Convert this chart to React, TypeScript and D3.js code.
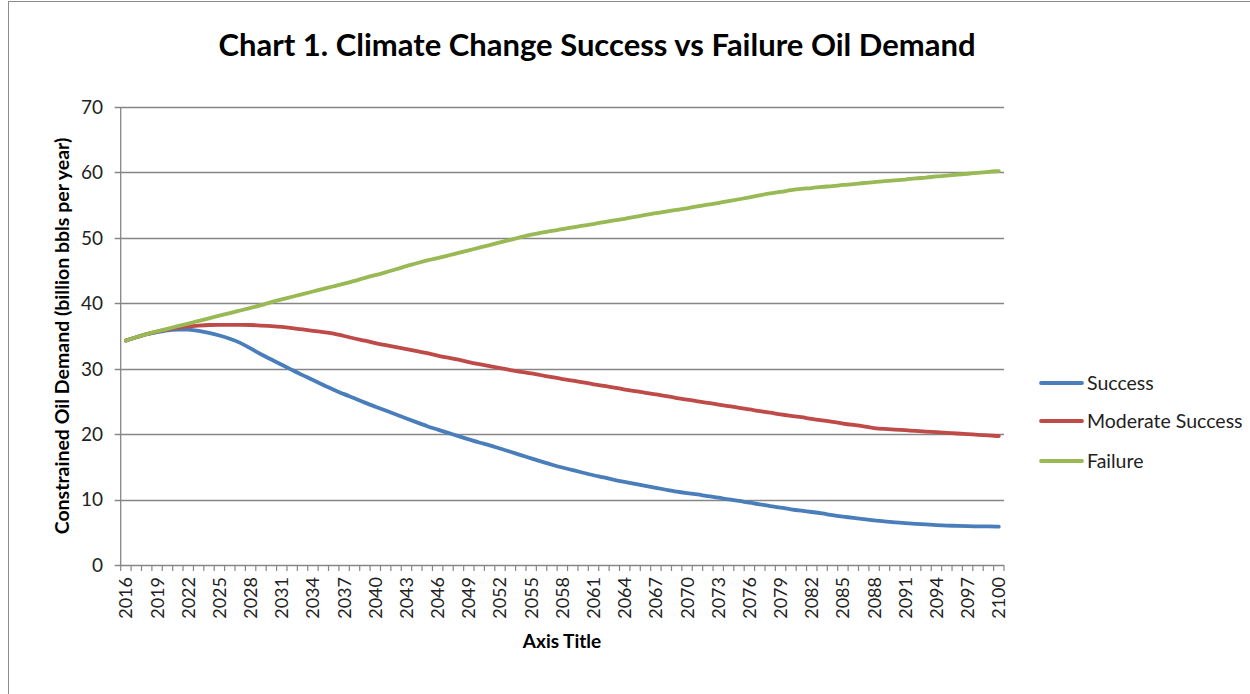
import React, { useEffect, useRef } from "react";
import * as d3 from "d3";

const years: number[] = d3.range(2016, 2101);

const success: number[] = [
  34.3, 34.8, 35.3, 35.6, 35.9, 36.0, 36.0, 35.8, 35.5, 35.1,
  34.6, 34.0, 33.1, 32.2, 31.4, 30.6, 29.8, 29.0, 28.3, 27.5,
  26.8, 26.1, 25.5, 24.8, 24.2, 23.6, 23.0, 22.4, 21.8, 21.2,
  20.7, 20.2, 19.7, 19.2, 18.7, 18.3, 17.8, 17.3, 16.8, 16.3,
  15.8, 15.3, 14.9, 14.5, 14.1, 13.7, 13.4, 13.0, 12.7, 12.4,
  12.1, 11.8, 11.5, 11.2, 11.0, 10.8, 10.5, 10.3, 10.0, 9.8,
  9.5, 9.3, 9.0, 8.8, 8.5, 8.3, 8.1, 7.9, 7.6, 7.4,
  7.2, 7.0, 6.8, 6.7, 6.5, 6.4, 6.3, 6.2, 6.1, 6.0,
  6.0, 5.95, 5.9, 5.9, 5.85,
];

const moderate: number[] = [
  34.3, 34.8, 35.3, 35.7, 36.0, 36.3, 36.5, 36.6, 36.7, 36.7,
  36.7, 36.7, 36.7, 36.6, 36.5, 36.4, 36.2, 36.0, 35.8, 35.6,
  35.4, 35.0, 34.6, 34.3, 33.9, 33.6, 33.3, 33.0, 32.7, 32.4,
  32.0, 31.7, 31.4, 31.0, 30.7, 30.4, 30.1, 29.8, 29.5, 29.3,
  29.0, 28.7, 28.4, 28.2, 27.9, 27.6, 27.4, 27.1, 26.8, 26.6,
  26.3, 26.1, 25.8, 25.5, 25.3, 25.0, 24.8, 24.5, 24.3, 24.0,
  23.8, 23.5, 23.3, 23.0, 22.8, 22.6, 22.3, 22.1, 21.9, 21.6,
  21.4, 21.2, 20.9, 20.8, 20.7, 20.6, 20.5, 20.4, 20.3, 20.2,
  20.1, 20.0, 19.9, 19.8, 19.7,
];

const failure: number[] = [
  34.3, 34.8, 35.3, 35.7, 36.1, 36.5, 36.9, 37.3, 37.7, 38.1,
  38.5, 38.9, 39.3, 39.7, 40.2, 40.6, 41.0, 41.4, 41.8, 42.2,
  42.6, 43.0, 43.4, 43.9, 44.3, 44.7, 45.2, 45.7, 46.1, 46.6,
  46.9, 47.3, 47.7, 48.1, 48.5, 48.9, 49.3, 49.7, 50.1, 50.5,
  50.8, 51.1, 51.3, 51.6, 51.9, 52.1, 52.4, 52.7, 52.9, 53.2,
  53.5, 53.8, 54.0, 54.3, 54.5, 54.8, 55.1, 55.3, 55.6, 55.9,
  56.2, 56.5, 56.8, 57.0, 57.3, 57.5, 57.6, 57.8, 57.9, 58.1,
  58.2, 58.4, 58.5, 58.7, 58.8, 58.9, 59.1, 59.2, 59.4, 59.5,
  59.7, 59.8, 59.9, 60.1, 60.2,
];

const seriesNames: string[] = ["Success", "Moderate Success", "Failure"];
const seriesColors: string[] = ["#4A7EBB", "#BE4B48", "#98B954"];
const yTicks: number[] = [0, 10, 20, 30, 40, 50, 60, 70];
const tickLabelYears: number[] = years.filter((y) => (y - 2016) % 3 === 0);

const FONT = "Lato, 'Open Sans', sans-serif";

export default function App() {
  const ref = useRef<SVGSVGElement>(null);

  useEffect(() => {
    const svg = d3.select(ref.current);
    svg.selectAll("*").remove();

    const left = 120.7, right = 1004, top = 107, bottom = 565;
    const x = d3.scaleBand<number>().domain(years).range([left, right]).padding(0);
    const y = d3.scaleLinear().domain([0, 70]).range([bottom, top]);
    const grid = "#868686";

    // border
    svg.append("rect").attr("x", 8.5).attr("y", 1.5).attr("width", 1300).attr("height", 800)
      .attr("fill", "white").attr("stroke", "#8c8c8c").attr("stroke-width", 1);

    // gridlines
    svg.append("g").selectAll("line").data(yTicks).join("line")
      .attr("x1", left - 6).attr("x2", right)
      .attr("y1", (d) => Math.round(y(d)) + 0.5).attr("y2", (d) => Math.round(y(d)) + 0.5)
      .attr("stroke", grid).attr("stroke-width", 1.3);

    // y axis line
    svg.append("line").attr("x1", left).attr("x2", left).attr("y1", top).attr("y2", bottom)
      .attr("stroke", grid).attr("stroke-width", 1.3);

    // y tick labels
    svg.append("g").selectAll("text").data(yTicks).join("text")
      .attr("x", 103).attr("y", (d) => y(d)).attr("dy", "0.36em")
      .attr("text-anchor", "end").attr("font-family", FONT).attr("font-size", 19)
      .attr("fill", "#222").text((d) => String(d));

    // x ticks at category boundaries
    const bounds = years.map((yr) => x(yr) as number).concat([right]);
    svg.append("g").selectAll("line").data(bounds).join("line")
      .attr("x1", (d) => d).attr("x2", (d) => d)
      .attr("y1", bottom).attr("y2", bottom + 6)
      .attr("stroke", grid).attr("stroke-width", 1.2);

    // x tick labels
    svg.append("g").selectAll("text").data(tickLabelYears).join("text")
      .attr("transform", (d) => `translate(${(x(d) as number) + x.bandwidth() / 2},${bottom + 12}) rotate(-90)`)
      .attr("dy", "0.36em")
      .attr("text-anchor", "end").attr("font-family", FONT).attr("font-size", 18)
      .attr("fill", "#222").text((d) => String(d));

    // lines
    const all = [success, moderate, failure];
    const line = d3.line<number>()
      .x((_, i) => (x(years[i]) as number) + x.bandwidth() / 2)
      .y((d) => y(d))
      .curve(d3.curveBasis);
    all.forEach((s, i) => {
      svg.append("path").attr("d", line(s) as string).attr("fill", "none")
        .attr("stroke", seriesColors[i]).attr("stroke-width", 3.8)
        .attr("stroke-linecap", "round").attr("stroke-linejoin", "round");
    });

    // title
    svg.append("text").attr("x", 597).attr("y", 56).attr("text-anchor", "middle")
      .attr("font-family", FONT).attr("font-weight", "bold").attr("font-size", 31)
      .attr("fill", "#000").text("Chart 1. Climate Change Success vs Failure Oil Demand");

    // y title
    svg.append("text").attr("transform", `translate(62,336) rotate(-90)`)
      .attr("text-anchor", "middle").attr("dy", "0.35em")
      .attr("font-family", FONT).attr("font-weight", "bold").attr("font-size", 19.5)
      .attr("fill", "#000").text("Constrained Oil Demand (billion bbls per year)");

    // x title
    svg.append("text").attr("x", 562).attr("y", 648).attr("text-anchor", "middle")
      .attr("font-family", FONT).attr("font-weight", "bold").attr("font-size", 19)
      .attr("fill", "#000").text("Axis Title");

    // legend
    const legendY = [383, 421, 461];
    seriesNames.forEach((n, i) => {
      svg.append("line").attr("x1", 1041).attr("x2", 1082)
        .attr("y1", legendY[i]).attr("y2", legendY[i])
        .attr("stroke", seriesColors[i]).attr("stroke-width", 3.8).attr("stroke-linecap", "round");
      svg.append("text").attr("x", 1087).attr("y", legendY[i]).attr("dy", "0.36em")
        .attr("font-family", FONT).attr("font-size", 19.5).attr("fill", "#222").text(n);
    });
  }, []);

  return (
    <svg ref={ref} width={1250} height={694}
      style={{ position: "absolute", left: 0, top: 0, display: "block", background: "white" }} />
  );
}
